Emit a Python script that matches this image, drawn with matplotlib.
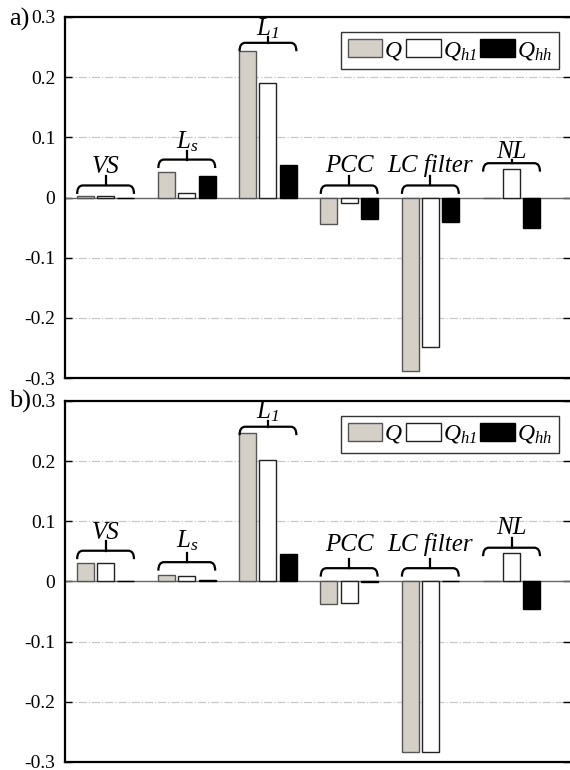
import matplotlib
matplotlib.use('Agg')
import matplotlib.pyplot as plt
import numpy as np
from matplotlib.path import Path
from matplotlib.patches import PathPatch

plt.rcParams['font.family'] = 'Liberation Serif'
plt.rcParams['mathtext.fontset'] = 'custom'
plt.rcParams['mathtext.it'] = 'Liberation Serif:italic'
plt.rcParams['mathtext.rm'] = 'Liberation Serif:italic'
plt.rcParams['axes.unicode_minus'] = False

# groups and values
groups = ['VS', r'$L_s$', r'$L_1$', 'PCC', 'LC filter', 'NL']
series = [r'$Q$', r'$Q_{h1}$', r'$Q_{hh}$']

q_a   = [0.002, 0.042, 0.244, -0.044, -0.288, 0.0]
qh1_a = [0.002, 0.007, 0.191, -0.009, -0.248, 0.048]
qhh_a = [0.0, 0.035, 0.054, -0.036, -0.041, -0.051]

q_b   = [0.030, 0.011, 0.246, -0.038, -0.283, 0.0]
qh1_b = [0.030, 0.009, 0.202, -0.036, -0.283, 0.047]
qhh_b = [0.0, 0.002, 0.046, -0.001, 0.0, -0.046]

# brace heights and label baselines
brace_a = [0.020, 0.063, 0.257, 0.020, 0.020, 0.057]
label_a = [0.041, 0.082, 0.270, 0.043, 0.043, 0.066]
brace_b = [0.051, 0.032, 0.257, 0.022, 0.022, 0.056]
label_b = [0.071, 0.057, 0.271, 0.050, 0.050, 0.078]

yticks = [-0.3, -0.2, -0.1, 0, 0.1, 0.2, 0.3]
ytick_labels = ['-0.3', '-0.2', '-0.1', '0', '0.1', '0.2', '0.3']
grid_y = [-0.2, -0.1, 0.1, 0.2]

fills = ['#d4d0c8', 'white', 'black']
edges = ['#555555', '#222222', 'black']


def brace(ax, xc, y, ytxt, text, half=0.35):
    x0, x1 = xc - half, xc + half
    h, r = 0.014, 0.07
    verts = [(x0, y - h), (x0, y), (x0 + r, y), (x1 - r, y), (x1, y), (x1, y - h)]
    codes = [Path.MOVETO, Path.CURVE3, Path.CURVE3, Path.LINETO, Path.CURVE3, Path.CURVE3]
    ax.add_patch(PathPatch(Path(verts, codes), fill=False, lw=1.6, color='black', zorder=4))
    ax.plot([xc, xc], [y, min(y + 0.016, ytxt - 0.004)], color='black', lw=1.6, zorder=4)
    ax.text(xc, ytxt, text, ha='center', va='baseline', fontsize=18, style='italic', zorder=5)


def panel(ax, vals, braces, labels):
    x = np.arange(1, len(groups) + 1)
    for i, v in enumerate(vals):
        ax.bar(x + (i - 1) * 0.25, v, width=0.21, color=fills[i], edgecolor=edges[i],
               lw=1, label=series[i], zorder=3)
    for g in grid_y:
        ax.axhline(g, color='#c8c8c8', lw=0.9, ls='-.', zorder=1)
    ax.axhline(0, color='#666666', lw=1.0, zorder=2)
    for xc, b, t, name in zip(x, braces, labels, groups):
        brace(ax, xc, b, t, name)
    ax.set_xlim(0.5, 6.72)
    ax.set_ylim(-0.3, 0.3)
    ax.set_xticks([])
    ax.set_yticks(yticks)
    ax.set_yticklabels(ytick_labels)
    ax.tick_params(axis='y', direction='in', length=5, width=1, right=True,
                   labelsize=14, pad=7)
    ax.spines['right'].set_visible(False)
    for s in ['left', 'top', 'bottom']:
        ax.spines[s].set_linewidth(1.6)
    leg = ax.legend(loc='upper right', bbox_to_anchor=(0.978, 0.959), ncol=3,
                    fontsize=17, frameon=True, fancybox=False, borderaxespad=0,
                    handlelength=1.45, handleheight=0.8, handletextpad=0.1,
                    columnspacing=0.15, borderpad=0.3)
    leg.get_frame().set_edgecolor('black')
    leg.get_frame().set_linewidth(1.0)


fig = plt.figure(figsize=(5.7, 7.7), dpi=100)
ax1 = fig.add_axes([0.114, 0.509, 0.886, 0.469])
ax2 = fig.add_axes([0.114, 0.0104, 0.886, 0.469])

panel(ax1, [q_a, qh1_a, qhh_a], brace_a, label_a)
panel(ax2, [q_b, qh1_b, qhh_b], brace_b, label_b)

fig.text(0.016, 0.975, 'a)', fontsize=19, va='center', ha='left')
fig.text(0.016, 0.478, 'b)', fontsize=19, va='center', ha='left')

fig.savefig('out.png', dpi=100)
